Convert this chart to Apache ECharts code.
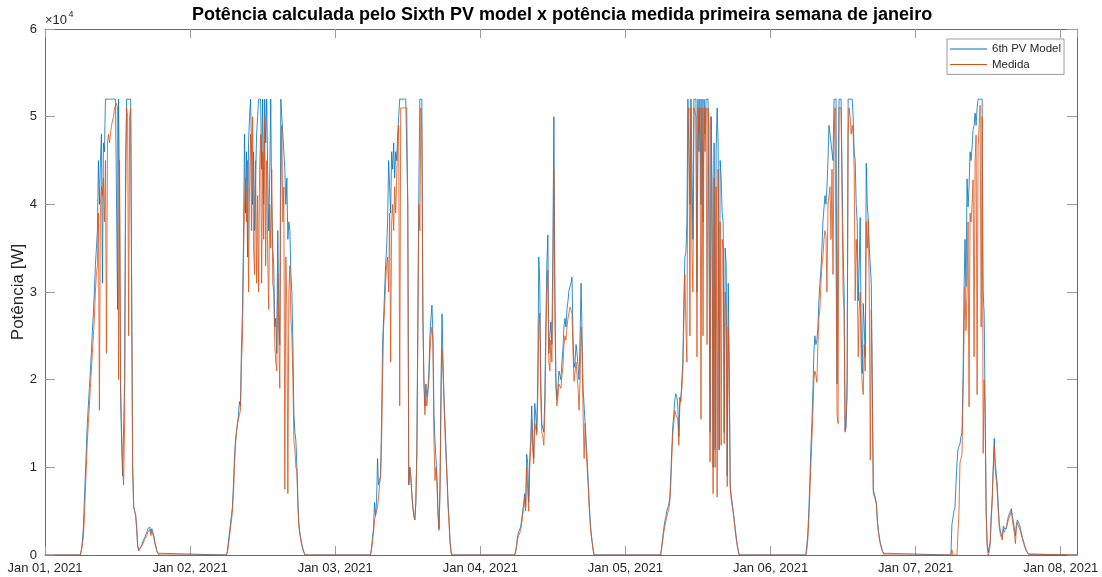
<!DOCTYPE html>
<html>
<head>
<meta charset="utf-8">
<script src="https://cdn.jsdelivr.net/npm/echarts@6/dist/echarts.min.js"></script>
<style>
  html, body { margin: 0; padding: 0; background: #fff; }
  #chart { width: 1102px; height: 577px; }
</style>
</head>
<body>
<div id="chart"></div>
<script>
// Tick labels of the time axis (one per day, midnight)
const xTickLabels = ['Jan 01, 2021', 'Jan 02, 2021', 'Jan 03, 2021', 'Jan 04, 2021',
                     'Jan 05, 2021', 'Jan 06, 2021', 'Jan 07, 2021', 'Jan 08, 2021'];
const yTickLabels = ['0', '1', '2', '3', '4', '5', '6'];   // × 10^4 W

// First sample of each day's generation window; samples every 10 minutes, values in kW
const dayStarts = ['05:50', '06:00', '05:50', '05:40', '05:50', '05:50', '05:50'];
const stepMinutes = 10;
const lastDay = 7.112;   // end of the record, in days after Jan 01 00:00

// 6th PV Model (calculated power), kW
const model1 = [0,0.5,1.5,3,6,9,12,15,17,19,21,23,25.5,27.5,30,33,35,37,45,40,45,48,31,47,46,52,52,52,52,52,52,52,52,52,52,52,52,28,52,40,18,13,9,9,20,45,52,52,52,52,52,30,10,5.5,5,4.5,3,1,0.5,0.6,0.9,1.2,1.5,1.7,2,2.3,2.6,3,3,3.2,2.5,3,3.1,2.2,1.5,1,0.5,0.2,0];
const model2 = [0,0.5,1.5,2.5,3.5,4.5,5.5,8,11,13,14,15,16,17.5,17,24,28,36,48,39,46,34,47,50,52,52,40,46,37,43,48,50,52,52,52,44,52,40,52,47,52,44,37,43,52,40,35,33,26,27,23,37,28,24,52,52,48,46,44,40,43,36,38,37,32,30,24,16,14,13,10,6,3.5,2.5,1.8,1.2,0.7,0.3,0];
const model3 = [0,0.8,2,3,6,4.5,6,11,8,8.5,9,15,24,27,30,33,35,38,45,42,39,46,44,47,43,46,45,48,50,52,52,52,52,52,52,52,52,40,8,10,9,7,5.5,4.5,4,6,12,27,42,52,52,52,27,20,17,19.5,18,19,21,25,27,28.5,25,16,13,11,9,5,3,8,20,27.5,22,18,15,12,9,6,4,1.5,0.3,0];
const model4 = [0,0.3,1.2,2.2,2.6,2.8,3.2,4,5,5.8,7,5.5,11.5,10.5,6,11,13,17,13,11,17.3,16,14,20,34,31,20,15,14.8,14,18,26,33,36.5,23,25,26.6,24,35,50,30,20,17.7,19,21,20.5,20,22,23.5,26,27,26,28,29,30.2,30,31,31.7,25,21.4,22,24,23,21.5,20,25,31,25,19,17,16.9,13,11,8.5,6,4,2.5,1.5,0.6,0];
const model5 = [0,1,2,3,3.8,4.3,5,5.4,5.8,6.5,9,12,14.6,16,17.7,18.4,18,17,13.5,18,17.5,20,22,29,34,34.5,38,52,52,40,52,52,36,52,52,52,30,52,46,52,40,52,38,52,48,52,52,52,52,14,50,42,10,47,12,46,51,47,12,45,43,39,38,14,35,33,9,31,22,8,6.8,6.6,5,4,3,2,1.2,0.5,0];
const model6 = [0,1,2.5,5,8.5,12,15,18.5,23,25,24,24.5,26,29,31,32.5,35,38,39.5,41,40,42,45,49,48,47,47,45,52,52,52,19.5,40,52,52,52,52,35,30,14.2,14.5,20,52,52,52,52,52,50,46,45,40,38,29,33,38.5,25,20.7,28.7,26,22.6,44.7,40,38.3,35,35,31,20,7.4,7,6.5,6,4,2.8,2,1.4,0.9,0.5,0.2,0];
const model7 = [0,3.5,4.2,5,5.4,8,10.5,12,12.4,12.7,13.5,14,20,30,36,30.6,42.9,39.7,42,46,45,46.5,48.5,49,50.4,49,51,52,52,52,52,52,30,27.5,16,5,1.3,0.3,0.5,1.5,4.5,6.6,10,13.3,10.5,9.3,8,5.5,3.6,2.8,2.3,2,3.3,3,3.2,3,3.8,4.4,4.5,5,5.3,4.5,3.8,3,2.2,3.5,4,4.2,3.5,3,2.5,2,1.6,1.2,0.8,0.5,0.3,0.1,0];

// Medida (measured power), kW
const medida1 = [0,0,1,2,4,7,10,13,15,17,19,21,23,25,27,30,32,33,39,16.5,40,42,41,43,38,45,23,47,48,47,48,49,49.5,50,51,51,51.5,51,20,45,20,14,10,8,15,40,51,50,25,50,51,30,10,5.5,5,4.5,3,1,0.5,0.5,0.8,1,1.2,1.5,1.8,2,2.2,2.6,2.7,2.9,2.2,2.7,2.9,2,1.3,0.9,0.4,0.2,0];
const medida2 = [0,0.3,1,2,3,4,5,7,10,12.5,14,15,15,16,16.5,22,25,34,40,43,38,45,30,42,48,37,50,35,32,45,31,41,30,44,48,31,46,36,50,33,45,34,28,40,35,44,31,30,24,22,21,32,25,19,40,49,38,42,7.5,34,28,7,30,33,27,25,20,13,12,10,9.5,5.5,3.2,2.3,1.6,1,0.6,0.3,0];
const medida3 = [0,0.6,1.5,2.5,4,4,5,5.5,6.5,8,9,13,20,26,28,31,33,34,30,39,22,38,40,37,42,39,43,47,49,17,51,51,51,51,51,51,51,40,8,10,9,7,5.5,4.5,4,6,11,25,40,37,51,48,28,20,16,18,17,17,20,23,25,26,24,13,8.5,10,8,4.5,2.8,7,17,23.5,21,17,14,11,8.5,5.5,3.5,1.3,0.3,0];
const medida4 = [0,0.2,0.9,1.8,2.2,2.4,2.8,3.5,4.5,5.2,6.5,5,10,10,5,10,12,15.5,12,10.4,15,15,13.7,18,26,27.6,18,14,13.5,12.5,16,24,30,32.5,22,21,24.5,22,30,44,28,19,17,18,19.5,19.6,19,20.5,21.5,24,25,24.5,26,27,27,28.3,28,27.5,23,19.8,20,22,20.5,19,16.5,20,26,23,16,11,15,12,10,8,5.5,3.6,2.3,1.4,0.5,0];
const medida5 = [0,0.8,1.6,2.5,3.2,3.8,4.3,4.8,5.2,6,8,11,13.8,15,16.5,16,16.2,15.5,12.5,17,17,19,21,27,32,26,22,50,51,25,51,35,30,51,51,50,22.6,51,48,51,15.5,51,25,51,46,51,24,51,49,10.6,50,35,7,43,10,42,6.6,44,12,38,12.5,36,35,12.7,30,28,7.8,26,20,7.5,6.3,6.2,4.8,3.8,2.7,1.8,1,0.4,0];
const medida6 = [0,0.6,1.8,4,7,10,13,16,20,21,20.5,19.7,24,27,28,31,33,34,36,37,36.5,30,40,41,42,36,44,32,47,51,51,16,15,51,51,51,51,30,28,14,14,18,48,51,50,48,49,48,44,29,36,33,22.6,28,30,22,19.5,18.3,24,21,38,35,38.3,30,10.8,28,18,7,6.8,6.3,5.8,3.8,2.6,1.8,1.2,0.8,0.4,0.2,0];
const medida7 = [0,0.6,0,0,0,0,0,0,5,10.5,11,11.5,18,25,30.6,25.6,30,38,16.9,39,38,40,42.8,22.6,45,47.9,18.3,46.5,49,51.3,26,50,11.6,20,16,4.5,1,0,0.3,1.2,4,6,9.5,12.4,9.8,8.5,7.2,5,3.2,2.4,2,1.7,3,2.6,2.9,2.7,3.5,4,4.1,4.6,5,4,3.2,2.5,1.3,3.2,3.7,3.9,3,2.7,2.2,1.8,1.4,1,0.7,0.4,0.2,0.1,0];

// Turn the daily kW samples into [day, W] points; the line rests at 0 overnight
function buildSeries(days) {
  const pts = [[0, 0]];
  days.forEach((vals, d) => {
    const [h, m] = dayStarts[d].split(':').map(Number);
    const t0 = d + (h * 60 + m) / 1440;
    vals.forEach((kw, i) => pts.push([t0 + i * stepMinutes / 1440, kw * 1000]));
  });
  pts.push([lastDay, 0]);
  return pts;
}

const modelData = buildSeries([model1, model2, model3, model4, model5, model6, model7]);
const medidaData = buildSeries([medida1, medida2, medida3, medida4, medida5, medida6, medida7]);

const FONT = '"Liberation Sans", Arial, Helvetica, sans-serif';
const TEXT = '#262626';
const AXIS = '#6a6a6a';
const TICK = '#9c9c9c';
const BLUE = '#0072BD';
const ORANGE = '#D95319';

const boxAxis = (extra) => Object.assign({
  type: 'value',
  axisLine: { show: true, onZero: false, lineStyle: { color: AXIS, width: 1 } },
  axisTick: { show: true, inside: true, length: 9, lineStyle: { color: TICK, width: 1 } },
  splitLine: { show: false },
  axisLabel: { show: false }
}, extra);

const chart = echarts.init(document.getElementById('chart'), null, { renderer: 'canvas' });
chart.setOption({
  animation: false,
  backgroundColor: '#ffffff',
  grid: { left: 45, right: 25, top: 29, bottom: 22, containLabel: false },
  xAxis: [
    boxAxis({
      min: 0, max: lastDay, interval: 1, position: 'bottom',
      axisLabel: {
        show: true, margin: 7, fontSize: 13, color: TEXT, fontFamily: FONT,
        showMaxLabel: false,
        formatter: (v) => Number.isInteger(v) ? xTickLabels[v] : ''
      }
    }),
    boxAxis({ min: 0, max: lastDay, interval: 1, position: 'top' })
  ],
  yAxis: [
    boxAxis({
      min: 0, max: 60000, interval: 10000, position: 'left',
      axisTick: { show: true, inside: true, length: 10, lineStyle: { color: TICK, width: 1 } },
      axisLabel: {
        show: true, margin: 8, fontSize: 13, color: TEXT, fontFamily: FONT,
        formatter: (v) => yTickLabels[Math.round(v / 10000)]
      }
    }),
    boxAxis({
      min: 0, max: 60000, interval: 10000, position: 'right',
      axisTick: { show: true, inside: true, length: 10, lineStyle: { color: TICK, width: 1 } }
    })
  ],
  legend: {
    orient: 'vertical',
    left: 947, top: 39,
    padding: [3, 3, 3, 3],
    icon: 'rect',
    itemWidth: 37, itemHeight: 1, itemGap: 1.4,
    borderColor: '#9c9c9c', borderWidth: 1, backgroundColor: '#ffffff',
    textStyle: { fontSize: 11.5, lineHeight: 14, color: TEXT, fontFamily: FONT },
    data: ['6th PV Model', 'Medida']
  },
  graphic: [
    {
      type: 'text', x: 562, y: 15.5,
      style: {
        text: 'Potência calculada pelo Sixth PV model x potência medida primeira semana de janeiro',
        font: 'bold 18px ' + FONT, fill: '#000', textAlign: 'center', textVerticalAlign: 'middle'
      }
    },
    {
      type: 'text', x: 18, y: 292, rotation: Math.PI / 2,
      style: {
        text: 'Potência [W]', font: '17px ' + FONT, fill: TEXT,
        textAlign: 'center', textVerticalAlign: 'middle'
      }
    },
    {
      type: 'text', x: 45, y: 20,
      style: { text: '×10', font: '13px ' + FONT, fill: TEXT, textAlign: 'left', textVerticalAlign: 'middle' }
    },
    {
      type: 'text', x: 68.5, y: 15,
      style: { text: '4', font: '9px ' + FONT, fill: TEXT, textAlign: 'left', textVerticalAlign: 'middle' }
    }
  ],
  series: [
    {
      name: '6th PV Model', type: 'line', data: modelData,
      xAxisIndex: 0, yAxisIndex: 0,
      symbol: 'none', showSymbol: false, silent: true, z: 2,
      lineStyle: { color: BLUE, width: 0.8 },
      itemStyle: { color: BLUE }
    },
    {
      name: 'Medida', type: 'line', data: medidaData,
      xAxisIndex: 0, yAxisIndex: 0,
      symbol: 'none', showSymbol: false, silent: true, z: 3,
      lineStyle: { color: ORANGE, width: 0.8 },
      itemStyle: { color: ORANGE }
    }
  ]
});
</script>
</body>
</html>
